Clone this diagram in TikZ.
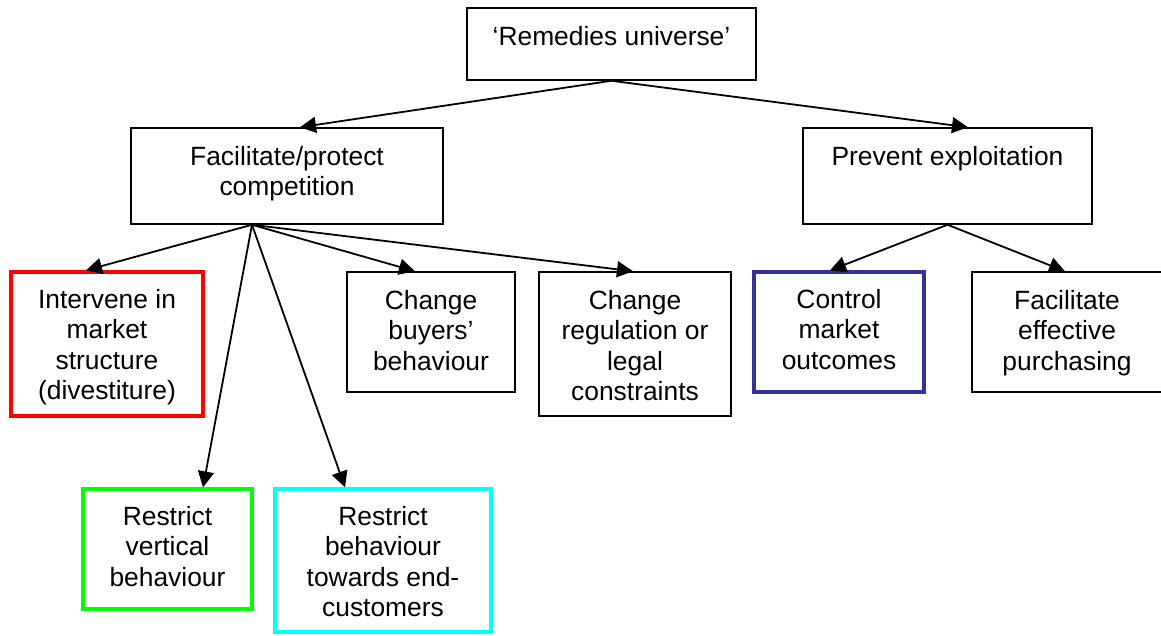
\documentclass[tikz,border=0pt]{standalone}
\usepackage{fontspec}
\setmainfont{Liberation Sans}
\usetikzlibrary{arrows.meta}
\definecolor{navyblue}{RGB}{51,51,153}
\definecolor{purecyan}{RGB}{0,255,255}
\definecolor{puregreen}{RGB}{0,255,0}
\definecolor{purered}{RGB}{255,0,0}
\tikzset{
  box/.style={draw=black, line width=1.5pt, inner sep=0pt, fill=white},
  redbox/.style={box, draw=purered, line width=3.3pt},
  greenbox/.style={box, draw=puregreen, line width=3.3pt},
  cyanbox/.style={box, draw=purecyan, line width=3.3pt},
  bluebox/.style={box, draw=navyblue, line width=3.3pt},
  lbl/.style={anchor=north, align=center, inner sep=0pt, font=\fontsize{26.4}{30.5}\selectfont},
  arr/.style={-{Triangle[length=16pt,width=16pt]}, line width=1.8pt, black},
}
\begin{document}
\begin{tikzpicture}[x=1pt,y=-1pt]
\useasboundingbox (0,0) rectangle (1161,635);
\begin{scope}
\clip (0,0) rectangle (1161,635);
% boxes
\node[box, minimum width=289pt, minimum height=72pt] (root) at (611.5,44) {};
\node[box, minimum width=312pt, minimum height=96pt] (fac) at (287,176) {};
\node[box, minimum width=289pt, minimum height=96pt] (prev) at (947.5,176) {};
\node[redbox, minimum width=192pt, minimum height=144pt] (inter) at (107,344) {};
\node[box, minimum width=168pt, minimum height=120pt] (buy) at (431,332) {};
\node[box, minimum width=192pt, minimum height=144pt] (reg) at (635,344) {};
\node[bluebox, minimum width=170pt, minimum height=120pt] (ctrl) at (839,332) {};
\node[box, minimum width=200pt, minimum height=120pt] (eff) at (1072,332) {};
\node[greenbox, minimum width=169pt, minimum height=120pt] (vert) at (167.5,549) {};
\node[cyanbox, minimum width=216pt, minimum height=143pt] (cust) at (383,560.5) {};
% texts
\node[lbl] (root-t) at ([yshift=-18.5pt]root.north) {‘Remedies universe’};
\node[lbl] (fac-t) at ([yshift=-18.5pt]fac.north) {Facilitate/protect\\competition};
\node[lbl] (prev-t) at ([yshift=-18.5pt]prev.north) {Prevent exploitation};
\node[lbl] (inter-t) at ([yshift=-18.5pt]inter.north) {Intervene in\\market\\structure\\(divestiture)};
\node[lbl] (buy-t) at ([yshift=-18.5pt]buy.north) {Change\\buyers’\\behaviour};
\node[lbl] (reg-t) at ([yshift=-18.5pt]reg.north) {Change\\regulation or\\legal\\constraints};
\node[lbl] (ctrl-t) at ([yshift=-18.5pt]ctrl.north) {Control\\market\\outcomes};
\node[lbl] (eff-t) at ([yshift=-18.5pt,xshift=-5pt]eff.north) {Facilitate\\effective\\purchasing};
\node[lbl] (vert-t) at ([yshift=-18.5pt]vert.north) {Restrict\\vertical\\behaviour};
\node[lbl] (cust-t) at ([yshift=-18.5pt]cust.north) {Restrict\\behaviour\\towards end-\\customers};
% arrows
\coordinate (fsrc) at ([xshift=-35pt]fac.south);
\draw[arr] (root.south) -- ([xshift=13pt]fac.north);
\draw[arr] (root.south) -- ([xshift=20.5pt]prev.north);
\draw[arr] (fsrc) -- ([xshift=-21pt]inter.north);
\draw[arr] (fsrc) -- ([xshift=-16pt]buy.north);
\draw[arr] (fsrc) -- ([xshift=-2pt]reg.north);
\draw[arr] (fsrc) -- ([xshift=35.5pt]vert.north);
\draw[arr] (fsrc) -- ([xshift=-38pt]cust.north);
\draw[arr] (prev.south) -- ([xshift=-9pt]ctrl.north);
\draw[arr] (prev.south) -- ([xshift=-7pt]eff.north);
\end{scope}
\end{tikzpicture}
\end{document}
